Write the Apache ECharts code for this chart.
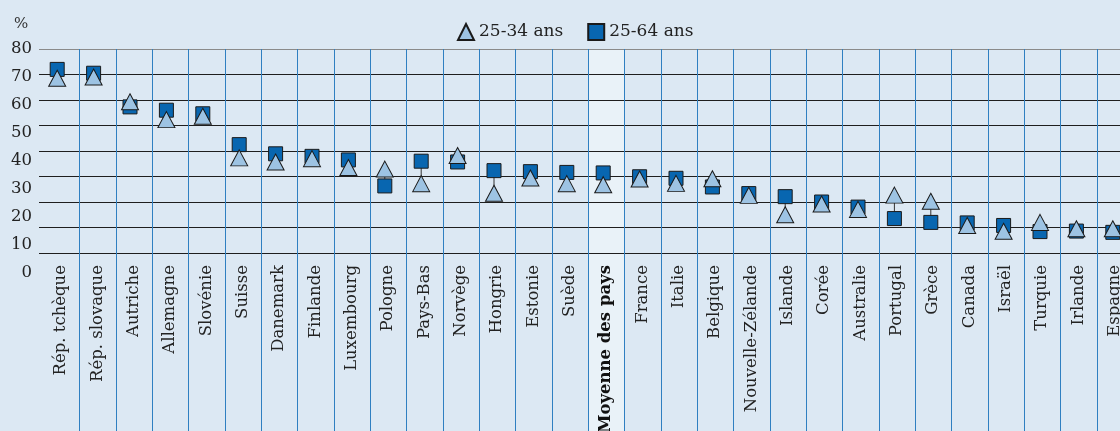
<!DOCTYPE html>
<html>
<head>
<meta charset="utf-8">
<script src="https://cdn.jsdelivr.net/npm/echarts@6/dist/echarts.min.js"></script>
<style>
  html, body { margin: 0; padding: 0; background: #dce8f3; overflow: hidden; }
  #chart { width: 1136px; height: 431px; }
</style>
</head>
<body>
<div id="chart"></div>
<script>
  // pays, dans l'ordre du graphique
  var countries = ['Rép. tchèque', 'Rép. slovaque', 'Autriche', 'Allemagne', 'Slovénie', 'Suisse', 'Danemark',
    'Finlande', 'Luxembourg', 'Pologne', 'Pays-Bas', 'Norvège', 'Hongrie', 'Estonie', 'Suède', 'Moyenne des pays',
    'France', 'Italie', 'Belgique', 'Nouvelle-Zélande', 'Islande', 'Corée', 'Australie', 'Portugal', 'Grèce',
    'Canada', 'Israël', 'Turquie', 'Irlande', 'Espagne'];
  var ans2534 = [68.5, 69, 59.3, 52.3, 53.6, 37.3, 35.7, 37, 33.5, 32.9, 27.2, 38.2, 23.4, 29.4, 27.2, 26.8,
    29, 27.3, 29.1, 22.6, 15, 19.2, 17.1, 22.7, 20.3, 10.8, 8.5, 12, 9.5, 9.5];
  var ans2564 = [72, 70.5, 57.3, 56, 54.6, 42.5, 38.9, 37.9, 36.5, 26.3, 36, 35.7, 32.3, 31.9, 31.6, 31.4,
    29.9, 29.3, 25.9, 23.3, 22.1, 20, 18, 13.5, 12, 11.8, 10.8, 8.4, 8.6, 8.1];
  var yMin = 0, yMax = 80, yStep = 10;
  var moyenne = 'Moyenne des pays';

  var FONT = 'DejaVu Serif';
  var chart = echarts.init(document.getElementById('chart'));

  // lignes reliant les deux valeurs d'un même pays
  var pairs = [];
  for (var i = 0; i < countries.length; i++) {
    pairs.push([i, ans2534[i], ans2564[i]]);
  }
  var highlight = countries.map(function (c) { return c === moyenne ? 1 : '-'; });
  // séparateurs verticaux, à gauche de chaque pays sauf le premier
  var separators = [];
  for (var j = 1; j < countries.length; j++) separators.push([j, 0]);

  var gridColors = [];
  for (var k = yMin; k < yMax; k += yStep) gridColors.push('#1e1e1e');
  gridColors.push('#8a8a8a');

  var option = {
    animation: false,
    backgroundColor: '#dce8f3',
    textStyle: { fontFamily: FONT },
    graphic: [{
      type: 'text', left: 14, top: 17,
      style: { text: '%', font: '15px "DejaVu Serif"', fill: '#333' }
    }],
    legend: {
      left: 452, top: 18,
      itemWidth: 16, itemHeight: 16, itemGap: 24,
      data: ['25-34 ans', '25-64 ans'],
      textStyle: { fontFamily: FONT, fontSize: 17, color: '#222' }
    },
    grid: [
      { left: 39, top: 49, width: 1092, height: 204, outerBoundsMode: 'none' },   // données
      { left: 43, top: 49, width: 1090, height: 400, outerBoundsMode: 'none' },   // libellés + traits verticaux
      { left: 39, top: 49, width: 10, height: 224, outerBoundsMode: 'none' }      // libellés de l'axe des %
    ],
    xAxis: [
      { type: 'category', gridIndex: 0, data: countries, show: false },
      {
        type: 'category', gridIndex: 1, data: countries, position: 'bottom', offset: -196,
        axisLine: { show: false }, axisTick: { show: false }, splitLine: { show: false },
        axisLabel: {
          rotate: 90, margin: 12, interval: 0, color: '#222',
          fontFamily: FONT, fontSize: 16.5,
          formatter: function (v) { return v === moyenne ? '{b|' + v + '}' : v; },
          rich: { b: { fontWeight: 'bold', fontFamily: FONT, fontSize: 16.5, color: '#111' } }
        }
      },
      { type: 'value', gridIndex: 2, show: false }
    ],
    yAxis: [
      {
        type: 'value', gridIndex: 0, min: yMin, max: yMax, interval: yStep,
        axisLine: { show: false }, axisTick: { show: false }, axisLabel: { show: false },
        splitLine: { lineStyle: { color: gridColors, width: 1 } }
      },
      { type: 'value', gridIndex: 1, min: 0, max: 1, show: false },
      {
        type: 'value', gridIndex: 2, min: yMin, max: yMax, interval: yStep,
        axisLine: { show: false }, axisTick: { show: false }, splitLine: { show: false },
        axisLabel: { margin: 7, color: '#222', fontFamily: FONT, fontSize: 16.5 }
      }
    ],
    series: [
      {
        type: 'bar', xAxisIndex: 1, yAxisIndex: 1, data: highlight,
        barWidth: '100%', silent: true, z: -1,
        itemStyle: { color: '#e9f2f8' }
      },
      {
        type: 'custom', xAxisIndex: 1, yAxisIndex: 1, data: separators, silent: true, z: 0,
        renderItem: function (params, api) {
          var c = api.coord([api.value(0), 0]);
          var band = api.size([1, 0])[0];
          var cs = params.coordSys;
          var x = Math.round(c[0] - band / 2) + 0.5;
          return {
            type: 'line',
            shape: { x1: x, y1: cs.y, x2: x, y2: cs.y + cs.height },
            style: { stroke: '#2f7fc1', lineWidth: 1 }
          };
        }
      },
      {
        type: 'custom', xAxisIndex: 0, yAxisIndex: 0, data: pairs, silent: true, z: 1,
        encode: { x: 0, y: [1, 2] },
        renderItem: function (params, api) {
          var a = api.coord([api.value(0), api.value(1)]);
          var b = api.coord([api.value(0), api.value(2)]);
          return {
            type: 'line',
            shape: { x1: a[0], y1: a[1], x2: b[0], y2: b[1] },
            style: { stroke: '#333', lineWidth: 1 }
          };
        }
      },
      {
        name: '25-64 ans', type: 'scatter', xAxisIndex: 0, yAxisIndex: 0, data: ans2564,
        symbol: 'rect', symbolSize: 14, z: 2,
        itemStyle: { color: '#0866b0', borderColor: '#1a1a1a', borderWidth: 1, opacity: 1 }
      },
      {
        name: '25-34 ans', type: 'scatter', xAxisIndex: 0, yAxisIndex: 0, data: ans2534,
        symbol: 'triangle', symbolSize: [17, 16], z: 3,
        itemStyle: { color: '#9dc3e3', borderColor: '#1a1a1a', borderWidth: 1, opacity: 1 }
      }
    ]
  };

  chart.setOption(option);
  window.addEventListener('resize', function () {
    chart.resize();
  });
</script>
</body>
</html>
